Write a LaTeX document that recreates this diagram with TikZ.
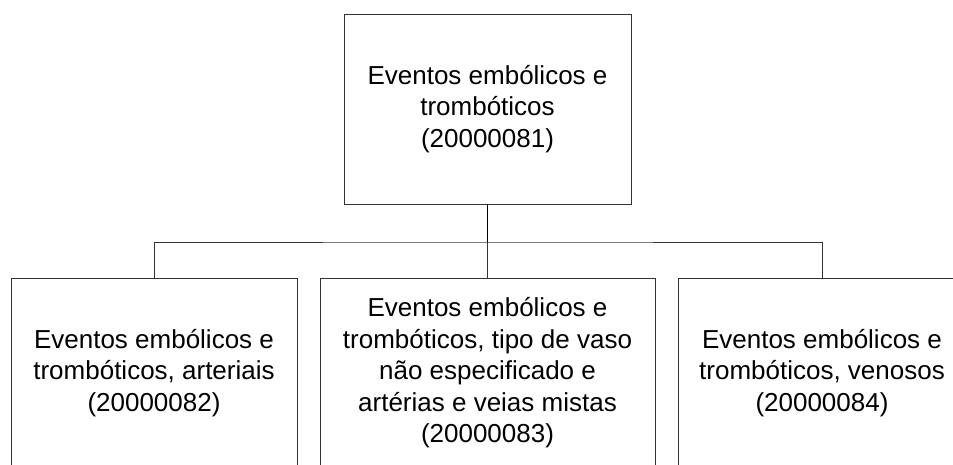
\documentclass[tikz,border=0pt]{standalone}
\usepackage{fontspec}
\setmainfont{Liberation Sans}
\usepackage{tikz}
\usetikzlibrary{positioning,calc}

\begin{document}
\begin{tikzpicture}[x=1pt, y=-1pt, line width=0.9pt,
    box/.style={draw=black!80, rectangle, minimum height=190pt, align=center, inner sep=0pt,
        font=\fontsize{26}{31.5}\selectfont}]
    \useasboundingbox (0,0) rectangle (953,464);
    \clip (0,0) rectangle (953,464);

    % Root
    \node [box, minimum width=287pt] (root) at (487.5,109) {Eventos embólicos e\\trombóticos\\(20000081)};

    % Children
    \node [box, minimum width=286pt] (arterial) at (154,373) {Eventos embólicos e\\trombóticos, arteriais\\(20000082)};
    \node [box, minimum width=335pt] (mixed) at (487.5,373) {Eventos embólicos e\\trombóticos, tipo de vaso\\não especificado e\\artérias e veias mistas\\(20000083)};
    \node [box, minimum width=287pt] (venous) at (822,373) {Eventos embólicos e\\trombóticos, venosos\\(20000084)};

    % Connectors
    \coordinate (bus) at (487.5,242);
    \draw (root.south) -- (bus);
    \draw [black!80] (arterial.north) |- (bus) -| (venous.north);
    \draw [black!80] (mixed.north) -- (bus);
\end{tikzpicture}
\end{document}
